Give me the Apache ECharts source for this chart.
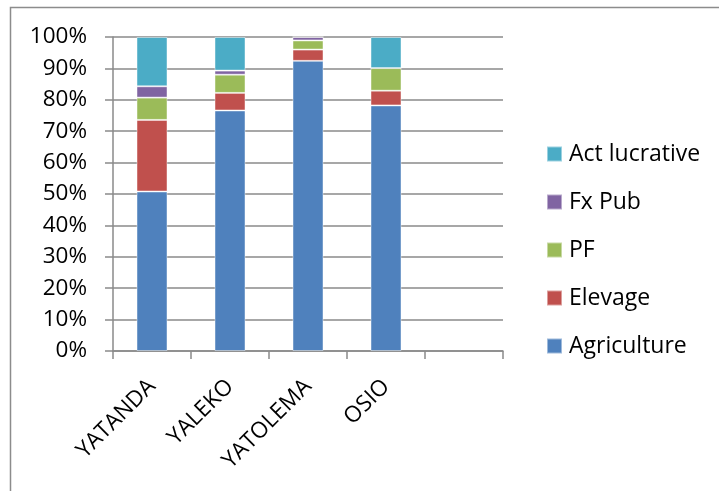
<!DOCTYPE html>
<html>
<head>
<meta charset="utf-8">
<script src="https://cdn.jsdelivr.net/npm/echarts@6/dist/echarts.min.js"></script>
<style>
  html, body { margin: 0; padding: 0; background: #fff; }
  #chart { width: 719px; height: 491px; }
</style>
</head>
<body>
<div id="chart"></div>
<script>
// Villages (the last slot is left empty on the axis)
const categories = ['YATANDA', 'YALEKO', 'YATOLEMA', 'OSIO', ''];

// Share of each activity per village, in percent
const agriculture   = [50.8, 76.6, 92.4, 78.2, null];
const elevage       = [22.8,  5.6,  3.6,  4.7, null];
const pf            = [ 7.1,  5.8,  2.9,  7.2, null];
const fxPub         = [ 3.6,  1.3,  1.1,  0.0, null];
const actLucrative  = [15.7, 10.7,  0.0,  9.9, null];

const seriesNames = ['Agriculture', 'Elevage', 'PF', 'Fx Pub', 'Act lucrative'];
const seriesData = [agriculture, elevage, pf, fxPub, actLucrative];
const seriesColors = ['#4F81BD', '#C0504D', '#9BBB59', '#8064A2', '#4BACC6'];

const font = '"Open Sans", "Liberation Sans", sans-serif';
const gridColor = '#8a8a8a';

const chart = echarts.init(document.getElementById('chart'));

chart.setOption({
  animation: false,
  backgroundColor: '#ffffff',
  graphic: [{
    type: 'rect',
    shape: { x: 10.5, y: 7.5, width: 900, height: 700 },
    style: { fill: 'none', stroke: '#8c8c8c', lineWidth: 1.5 },
    silent: true,
    z: -10
  }],
  grid: { left: 113, right: 216, top: 37, bottom: 140, containLabel: false },
  legend: {
    orient: 'vertical',
    left: 541,
    top: 137,
    itemWidth: 15,
    itemHeight: 15,
    itemGap: 24,
    icon: 'rect',
    data: seriesNames.slice().reverse(),
    textStyle: { fontFamily: font, fontSize: 23, color: '#000', lineHeight: 24, padding: [0, 0, 0, 2] }
  },
  xAxis: {
    type: 'category',
    data: categories,
    boundaryGap: true,
    axisLine: { show: true, lineStyle: { color: gridColor, width: 1.5 } },
    axisTick: { show: true, length: 8, lineStyle: { color: gridColor, width: 1.5 } },
    axisLabel: {
      interval: 0,
      rotate: 45,
      margin: 32,
      fontFamily: font,
      fontSize: 22.5,
      color: '#000'
    }
  },
  yAxis: {
    type: 'value',
    min: 0,
    max: 100,
    interval: 10,
    axisLine: { show: true, lineStyle: { color: gridColor, width: 1.5 } },
    axisTick: { show: true, length: 8, lineStyle: { color: gridColor, width: 1.5 } },
    splitLine: { show: true, lineStyle: { color: gridColor, width: 1.5 } },
    axisLabel: {
      formatter: '{value}%',
      margin: 26,
      fontFamily: font,
      fontSize: 22.5,
      color: '#000'
    }
  },
  series: seriesNames.map((name, i) => ({
    name: name,
    type: 'bar',
    stack: 'total',
    barWidth: 31,
    data: seriesData[i],
    itemStyle: { color: seriesColors[i], borderColor: 'rgba(255,255,255,0.45)', borderWidth: 1 }
  }))
});
</script>
</body>
</html>
